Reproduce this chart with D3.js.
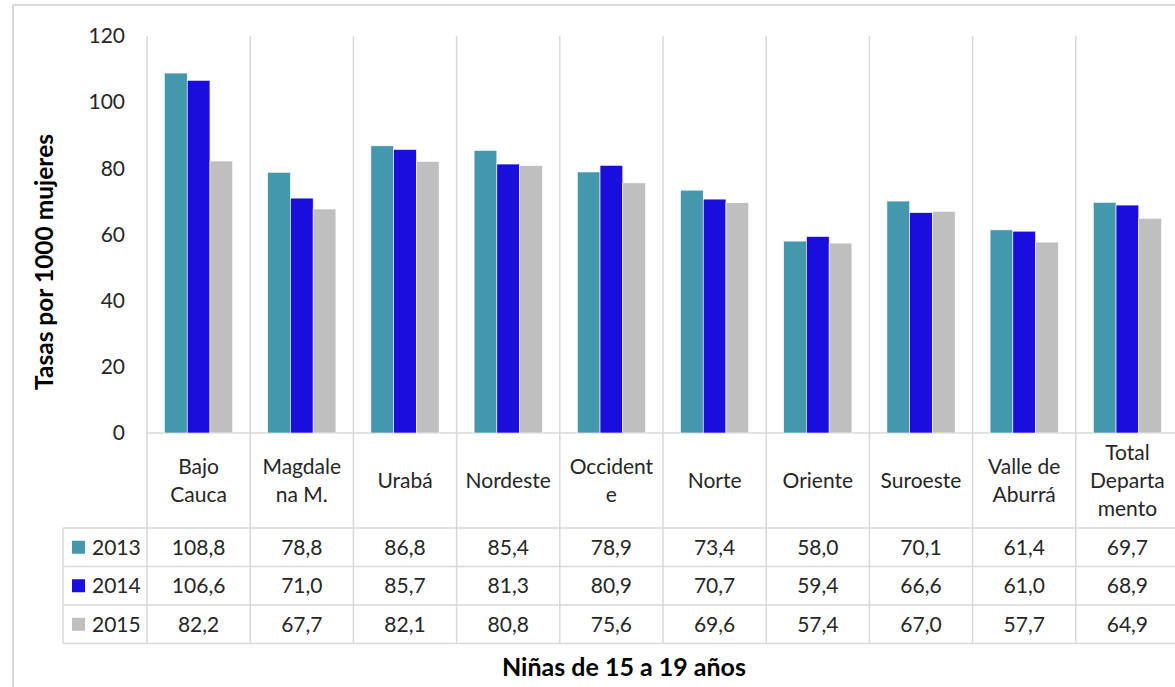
<!DOCTYPE html>
<html>
<head>
<meta charset="utf-8">
<script src="https://cdn.jsdelivr.net/npm/d3@7/dist/d3.min.js"></script>
<style>
  html, body { margin: 0; padding: 0; background: #fff; }
  svg { display: block; font-family: Lato, "Liberation Sans", sans-serif; }
</style>
</head>
<body>
<svg id="chart" width="1175" height="687"></svg>
<script>
// Chart data
const categories = ["Bajo Cauca", "Magdalena M.", "Urabá", "Nordeste", "Occidente",
  "Norte", "Oriente", "Suroeste", "Valle de Aburrá", "Total Departamento"];
// Category labels as wrapped in the original
const categoryLines = [["Bajo", "Cauca"], ["Magdale", "na M."], ["Urabá"], ["Nordeste"],
  ["Occident", "e"], ["Norte"], ["Oriente"], ["Suroeste"], ["Valle de", "Aburrá"],
  ["Total", "Departa", "mento"]];
const years = ["2013", "2014", "2015"];
const values2013 = [108.8, 78.8, 86.8, 85.4, 78.9, 73.4, 58.0, 70.1, 61.4, 69.7];
const values2014 = [106.6, 71.0, 85.7, 81.3, 80.9, 70.7, 59.4, 66.6, 61.0, 68.9];
const values2015 = [82.2, 67.7, 82.1, 80.8, 75.6, 69.6, 57.4, 67.0, 57.7, 64.9];
const yTicks = [0, 20, 40, 60, 80, 100, 120];

(function() {
  const series = [values2013, values2014, values2015];
  const colors = ["#4398ae", "#1a0ede", "#bfbfbf"];

  const svg = d3.select("#chart");
  const grid = "#d9d9d9";
  const textColor = "#262626";
  const fontSize = 21;

  const plotLeft = 147, plotRight = 1179, plotTop = 36, plotBottom = 433;
  const labelRowBottom = 528, rowH = 38.5, legendLeft = 63;

  const locale = d3.formatLocale({ decimal: ",", thousands: ".", grouping: [3], currency: ["", ""] });
  const fmt = locale.format(".1f");

  const x = d3.scaleBand().domain(categories).range([plotLeft, plotRight]);
  const xInner = d3.scaleBand().domain(years)
    .range([0, x.bandwidth()]).paddingInner(0).paddingOuter(0.77);
  const y = d3.scaleLinear().domain([0, 120]).range([plotBottom, plotTop]);

  // outer chart border
  svg.append("path")
    .attr("d", "M13,687 V5 H1175")
    .attr("fill", "none").attr("stroke", grid).attr("stroke-width", 2);

  // category separators (run through plot, label row and table)
  const tableBottom = labelRowBottom + rowH * years.length;
  svg.append("g").selectAll("line")
    .data(categories.map(c => x(c)).concat([plotRight]))
    .join("line")
    .attr("x1", d => d).attr("x2", d => d)
    .attr("y1", plotTop).attr("y2", tableBottom)
    .attr("stroke", grid).attr("stroke-width", 1.5);

  // horizontal table lines
  const hLines = [{ y: plotBottom, x1: plotLeft }].concat(
    d3.range(years.length + 1).map(i => ({ y: labelRowBottom + i * rowH, x1: legendLeft })));
  svg.append("g").selectAll("line")
    .data(hLines)
    .join("line")
    .attr("x1", d => d.x1).attr("x2", plotRight)
    .attr("y1", d => d.y).attr("y2", d => d.y)
    .attr("stroke", grid).attr("stroke-width", 1.5);
  svg.append("line")
    .attr("x1", legendLeft).attr("x2", legendLeft)
    .attr("y1", labelRowBottom).attr("y2", tableBottom)
    .attr("stroke", grid).attr("stroke-width", 1.5);

  // y axis (labels only)
  const yAxis = svg.append("g")
    .attr("transform", `translate(${plotLeft - 22},0)`)
    .call(d3.axisLeft(y).tickValues(yTicks).tickSize(0).tickPadding(0));
  yAxis.select(".domain").remove();
  yAxis.selectAll("text")
    .attr("font-size", fontSize).attr("fill", textColor)
    .attr("font-family", "Lato, sans-serif");

  // bars
  const groups = svg.append("g").selectAll("g")
    .data(categories)
    .join("g")
    .attr("transform", d => `translate(${x(d)},0)`);
  groups.selectAll("rect")
    .data((c, i) => series.map((s, j) => ({ year: years[j], value: s[i], k: j })))
    .join("rect")
    .attr("x", d => xInner(d.year))
    .attr("width", xInner.bandwidth())
    .attr("y", d => y(d.value))
    .attr("height", d => y(0) - y(d.value))
    .attr("fill", d => colors[d.k])
    .attr("stroke", "#fff").attr("stroke-width", 0.6);

  // category labels
  const lineH = 28, labelMid = 481;
  const labels = svg.append("g").selectAll("text")
    .data(categories)
    .join("text")
    .attr("text-anchor", "middle")
    .attr("font-size", fontSize).attr("fill", textColor)
    .attr("y", (d, i) => labelMid - (categoryLines[i].length - 1) * lineH / 2);
  labels.selectAll("tspan")
    .data((d, i) => categoryLines[i].map(t => ({ t, cx: x(d) + x.bandwidth() / 2 })))
    .join("tspan")
    .attr("x", d => d.cx)
    .attr("dy", (d, i) => i === 0 ? "0.35em" : lineH)
    .text(d => d.t);

  // table rows
  const rows = svg.append("g").selectAll("g")
    .data(years)
    .join("g")
    .attr("transform", (d, i) => `translate(0,${labelRowBottom + i * rowH + rowH / 2})`);
  rows.append("rect")
    .attr("x", 72).attr("y", -6.5).attr("width", 13).attr("height", 13)
    .attr("fill", (d, i) => colors[i]);
  rows.append("text")
    .attr("x", 92).attr("dy", "0.35em")
    .attr("font-size", fontSize).attr("fill", textColor)
    .text(d => d);
  rows.selectAll("text.val")
    .data((d, i) => series[i].map((v, j) => ({ v, c: categories[j] })))
    .join("text")
    .attr("class", "val")
    .attr("x", d => x(d.c) + x.bandwidth() / 2)
    .attr("dy", "0.35em")
    .attr("text-anchor", "middle")
    .attr("font-size", fontSize).attr("fill", textColor)
    .text(d => fmt(d.v));

  // axis titles
  svg.append("text")
    .attr("transform", "translate(53,262) rotate(-90)")
    .attr("text-anchor", "middle")
    .attr("font-size", 24.5).attr("font-weight", "bold").attr("fill", "#000")
    .text("Tasas por 1000 mujeres");
  svg.append("text")
    .attr("x", 624).attr("y", 667).attr("dy", "0.35em")
    .attr("text-anchor", "middle")
    .attr("font-size", 25).attr("font-weight", "bold").attr("fill", "#000")
    .text("Niñas de 15 a 19 años");
})();
</script>
</body>
</html>
